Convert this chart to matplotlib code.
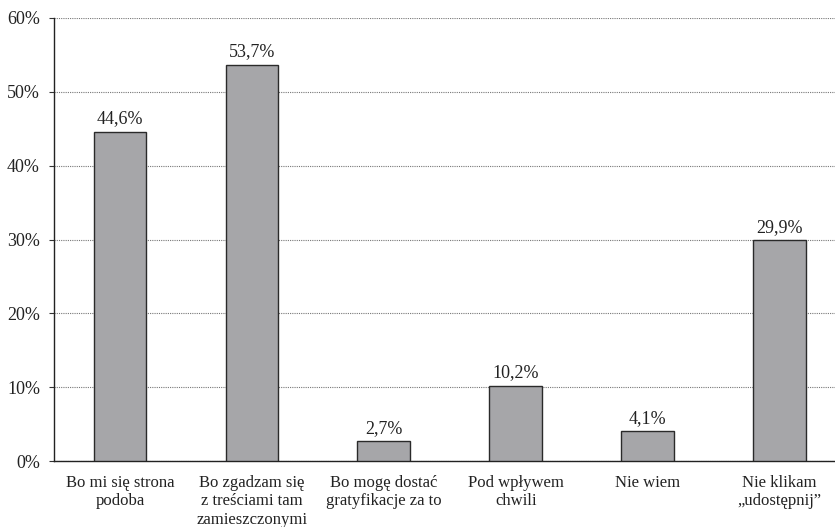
import matplotlib.pyplot as plt

plt.rcParams['font.family'] = ['Liberation Serif', 'DejaVu Serif']

# answers and percentages
categories = ['Bo mi się strona\npodoba',
              'Bo zgadzam się\nz treściami tam\nzamieszczonymi',
              'Bo mogę dostać\ngratyfikacje za to',
              'Pod wpływem\nchwili',
              'Nie wiem',
              'Nie klikam\n„udostępnij”']
values = [44.6, 53.7, 2.7, 10.2, 4.1, 29.9]
value_labels = ['44,6%', '53,7%', '2,7%', '10,2%', '4,1%', '29,9%']
y_ticks = [0, 10, 20, 30, 40, 50, 60]
y_tick_labels = ['0%', '10%', '20%', '30%', '40%', '50%', '60%']

fig = plt.figure(figsize=(8.35, 5.27), dpi=100)
ax = fig.add_axes([54 / 835, 1 - 461 / 527, 781 / 835, 443 / 527])

x = range(len(values))
ax.bar(x, values, width=0.4, color='#a6a6a9', edgecolor='#2a2a2a', linewidth=1.0, zorder=3)

for i, (v, lab) in enumerate(zip(values, value_labels)):
    ax.text(i, v + 1.1, lab, ha='center', va='baseline', fontsize=13, color='#222222')

ax.set_ylim(0, 60)
ax.set_xlim(-0.5, 5.42)
ax.set_yticks(y_ticks)
ax.set_yticklabels(y_tick_labels, fontsize=13, color='#222222')
ax.set_xticks(list(x))
ax.set_xticklabels(categories, fontsize=12, color='#222222', linespacing=1.2)
ax.tick_params(axis='x', length=0, pad=10)
ax.tick_params(axis='y', length=3.6, width=0.8, pad=6.5, color='#333333')

ax.yaxis.grid(True, linestyle=(0, (1, 1)), color='#777777', linewidth=0.8, zorder=0)
ax.set_axisbelow(True)
for side in ['top', 'right']:
    ax.spines[side].set_visible(False)
ax.spines['left'].set_color('#222222')
ax.spines['bottom'].set_color('#222222')
ax.spines['left'].set_linewidth(1.0)
ax.spines['bottom'].set_linewidth(1.0)

fig.savefig('out.png', dpi=100)
